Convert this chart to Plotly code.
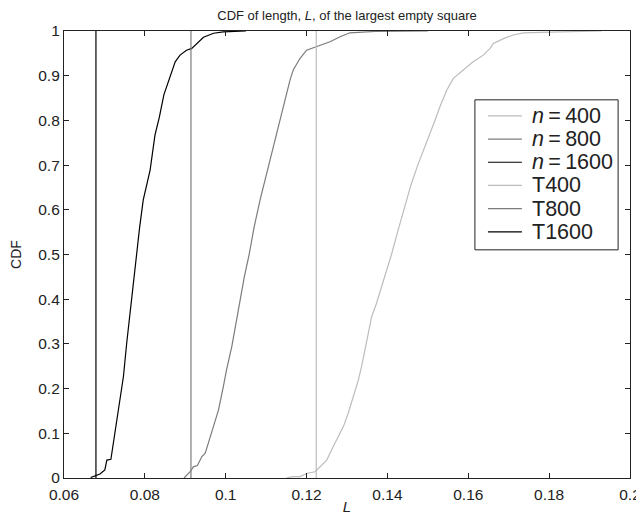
import plotly.graph_objects as go

# 读取的曲线数据 (从图上估计)
L_400 = [0.1150, 0.1166, 0.1184, 0.1200, 0.1221, 0.1233, 0.1250, 0.1262, 0.1278, 0.1291, 0.1303,
         0.1316, 0.1328, 0.1336, 0.1344, 0.1353, 0.1361, 0.1373, 0.1392, 0.1410, 0.1425, 0.1440,
         0.1458, 0.1475, 0.1497, 0.1518, 0.1530, 0.1547, 0.1563, 0.1588, 0.1612, 0.1637, 0.1654,
         0.1662, 0.1687, 0.1711, 0.1736, 0.1780, 0.1860, 0.1930]
cdf_400 = [0.0, 0.003, 0.003, 0.010, 0.014, 0.025, 0.040, 0.063, 0.092, 0.115, 0.145,
           0.182, 0.219, 0.249, 0.286, 0.331, 0.361, 0.391, 0.445, 0.500, 0.550, 0.600,
           0.655, 0.700, 0.750, 0.801, 0.831, 0.868, 0.894, 0.913, 0.931, 0.946, 0.961,
           0.972, 0.983, 0.991, 0.996, 0.997, 0.999, 1.0]

L_800 = [0.0897, 0.0912, 0.0920, 0.0930, 0.0941, 0.0949, 0.0957, 0.0970, 0.0982, 0.0994, 0.1002,
         0.1015, 0.1027, 0.1035, 0.1046, 0.1058, 0.1070, 0.1085, 0.1110, 0.1126, 0.1142, 0.1159,
         0.1167, 0.1184, 0.1200, 0.1225, 0.1258, 0.1283, 0.1307, 0.1370, 0.1500]
cdf_800 = [0.0, 0.014, 0.025, 0.028, 0.048, 0.055, 0.078, 0.115, 0.152, 0.204, 0.242,
           0.294, 0.353, 0.398, 0.450, 0.500, 0.560, 0.622, 0.711, 0.771, 0.831, 0.890,
           0.913, 0.939, 0.957, 0.965, 0.976, 0.987, 0.996, 0.999, 1.0]

L_1600 = [0.0666, 0.0689, 0.0701, 0.0706, 0.0716, 0.0722, 0.0730, 0.0739, 0.0747, 0.0755, 0.0763,
          0.0766, 0.0772, 0.0778, 0.0787, 0.0796, 0.0813, 0.0825, 0.0836, 0.0847, 0.0862, 0.0875,
          0.0887, 0.0903, 0.0916, 0.0928, 0.0945, 0.0970, 0.0994, 0.1050]
cdf_1600 = [0.001, 0.009, 0.018, 0.040, 0.042, 0.078, 0.115, 0.174, 0.227, 0.301, 0.368,
            0.398, 0.450, 0.500, 0.560, 0.622, 0.689, 0.767, 0.808, 0.857, 0.898, 0.931,
            0.946, 0.957, 0.961, 0.972, 0.986, 0.995, 0.998, 1.0]

# 理论阈值 T
T_vals = [0.1224, 0.0914, 0.0679]

names = ['<i>n</i>\u2009=\u2009400', '<i>n</i>\u2009=\u2009800', '<i>n</i>\u2009=\u20091600']
t_names = ['T400', 'T800', 'T1600']
colors = ['#bcbcbc', '#7c7c7c', '#000000']

fig = go.Figure()
for xs, ys, nm, c in zip([L_400, L_800, L_1600], [cdf_400, cdf_800, cdf_1600], names, colors):
    fig.add_trace(go.Scatter(x=xs, y=ys, mode='lines', name=nm,
                             line=dict(color=c, width=1.2)))
for t, nm, c in zip(T_vals, t_names, colors):
    fig.add_trace(go.Scatter(x=[t, t], y=[0, 1], mode='lines', name=nm,
                             line=dict(color=c, width=1.2)))

# 图例 (MATLAB 风格, 手动绘制以控制行距)
plot_h = 447
leg_x0, leg_x1, leg_top = 0.726, 0.979, 0.846
row_h = 23.2 / plot_h
pad_top, pad_bot = 16 / plot_h, 18 / plot_h
fig.add_shape(type='rect', xref='paper', yref='paper', x0=leg_x0, x1=leg_x1,
              y0=leg_top - pad_top - pad_bot - 5 * row_h, y1=leg_top,
              line=dict(color='#222', width=1), fillcolor='white', layer='above')
for i, (nm, c) in enumerate(zip(names + t_names, colors + colors)):
    yy = leg_top - pad_top - i * row_h
    fig.add_shape(type='line', xref='paper', yref='paper', x0=leg_x0 + 0.023, x1=leg_x0 + 0.083,
                  y0=yy, y1=yy, line=dict(color=c, width=1.2), layer='above')
    fig.add_annotation(xref='paper', yref='paper', x=leg_x0 + 0.097, y=yy, text=nm,
                       showarrow=False, xanchor='left', yanchor='middle',
                       font=dict(size=21.5, color='#222'))

axis_style = dict(showline=True, linecolor='#222', linewidth=1.2, mirror='ticks',
                  ticks='inside', ticklen=5, tickcolor='#222', showgrid=False,
                  zeroline=False, tickfont=dict(size=15.5, color='#222'), automargin=False)

# 页面 body 默认有 8px 边距, 所以图的尺寸和边距都减 8
fig.update_layout(
    width=636, height=507,
    margin=dict(l=56, r=14, t=23, b=37),
    paper_bgcolor='white', plot_bgcolor='white',
    font=dict(family='Liberation Sans, Arial, sans-serif', color='#222'),
    showlegend=False,
    title=dict(text='CDF of length, <i>L</i>, of the largest empty square',
               x=(56 + 283) / 636, xanchor='center', yref='container', y=1 - 7 / 507,
               yanchor='middle', font=dict(size=13)),
    xaxis=dict(range=[0.06, 0.2], tickvals=[0.06, 0.08, 0.1, 0.12, 0.14, 0.16, 0.18, 0.2],
               ticktext=['0.06', '0.08', '0.1', '0.12', '0.14', '0.16', '0.18', '0.2'],
               ticklabelstandoff=2,
               title=dict(text='<i>L</i>', font=dict(size=15), standoff=1), **axis_style),
    yaxis=dict(range=[0, 1], tickvals=[i / 10 for i in range(11)],
               ticktext=['0', '0.1', '0.2', '0.3', '0.4', '0.5', '0.6', '0.7', '0.8', '0.9', '1'],
               title=dict(text='CDF', font=dict(size=14), standoff=20), **axis_style),
)

fig.write_html("out.html")
